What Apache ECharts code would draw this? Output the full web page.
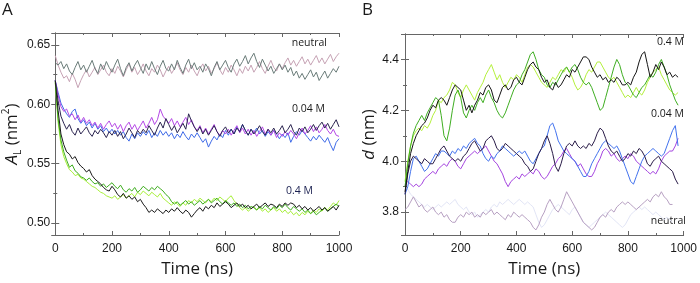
<!DOCTYPE html>
<html><head><meta charset="utf-8">
<script src="https://cdn.jsdelivr.net/npm/echarts@6.0.0/dist/echarts.min.js"></script>
<style>html,body{margin:0;padding:0;background:#fff}#c{width:700px;height:283px}</style>
</head><body><div id="c"></div>
<script>
// ---------- DATA ----------
// time samples (ns)
const timeStepNs = 10;

// Panel A: area per lipid A_L (nm^2)
const aNeutralGray = [0.635,0.633,0.636,0.630,0.634,0.628,0.625,0.631,0.636,0.629,
 0.633,0.627,0.632,0.637,0.630,0.626,0.634,0.629,0.636,0.631,
 0.627,0.633,0.638,0.630,0.624,0.631,0.635,0.628,0.633,0.637,
 0.631,0.626,0.634,0.629,0.636,0.630,0.625,0.632,0.637,0.630,
 0.628,0.634,0.629,0.637,0.631,0.626,0.633,0.638,0.630,0.635,
 0.629,0.632,0.627,0.634,0.630,0.624,0.631,0.636,0.629,0.633,
 0.637,0.631,0.627,0.634,0.638,0.632,0.636,0.641,0.634,0.639,
 0.643,0.636,0.631,0.638,0.633,0.628,0.632,0.626,0.630,0.634,
 0.629,0.633,0.627,0.631,0.624,0.628,0.622,0.626,0.621,0.625,
 0.629,0.623,0.627,0.620,0.624,0.628,0.622,0.626,0.630,0.627,0.632];
const aNeutralPink = [0.641,0.633,0.627,0.622,0.624,0.619,0.626,0.621,0.614,0.620,
 0.625,0.629,0.623,0.627,0.631,0.625,0.629,0.633,0.627,0.624,
 0.630,0.626,0.632,0.628,0.623,0.629,0.634,0.627,0.631,0.625,
 0.629,0.634,0.628,0.624,0.630,0.627,0.633,0.629,0.623,0.628,
 0.632,0.626,0.630,0.635,0.629,0.625,0.631,0.627,0.633,0.628,
 0.624,0.630,0.634,0.628,0.632,0.626,0.630,0.635,0.629,0.625,
 0.631,0.627,0.633,0.629,0.624,0.630,0.626,0.632,0.628,0.633,
 0.627,0.631,0.636,0.630,0.626,0.632,0.637,0.631,0.628,0.634,
 0.630,0.635,0.639,0.633,0.637,0.632,0.636,0.640,0.634,0.638,
 0.633,0.637,0.641,0.635,0.639,0.634,0.638,0.642,0.636,0.640,0.643];
const a004Navy = [0.620,0.603,0.590,0.584,0.579,0.583,0.577,0.574,0.580,0.575,
 0.578,0.581,0.576,0.573,0.578,0.575,0.579,0.576,0.572,0.577,
 0.574,0.578,0.573,0.577,0.571,0.575,0.580,0.576,0.572,0.578,
 0.575,0.579,0.576,0.582,0.578,0.574,0.580,0.585,0.580,0.588,
 0.583,0.578,0.582,0.576,0.580,0.584,0.579,0.592,0.586,0.581,
 0.577,0.581,0.575,0.579,0.574,0.578,0.582,0.577,0.573,0.578,
 0.581,0.576,0.579,0.575,0.580,0.577,0.583,0.578,0.574,0.579,
 0.575,0.578,0.582,0.577,0.574,0.579,0.576,0.580,0.575,0.578,
 0.582,0.576,0.579,0.583,0.577,0.574,0.580,0.577,0.581,0.576,
 0.579,0.583,0.578,0.582,0.585,0.580,0.584,0.579,0.583,0.587,0.581];
const a004Violet = [0.620,0.608,0.598,0.594,0.596,0.590,0.592,0.587,0.591,0.585,
 0.589,0.584,0.587,0.582,0.585,0.580,0.584,0.579,0.583,0.586,
 0.581,0.584,0.579,0.583,0.577,0.582,0.585,0.579,0.583,0.578,
 0.582,0.586,0.580,0.584,0.589,0.583,0.587,0.596,0.590,0.587,
 0.584,0.588,0.582,0.586,0.581,0.585,0.589,0.583,0.587,0.581,
 0.578,0.582,0.576,0.580,0.575,0.579,0.583,0.577,0.574,0.578,
 0.575,0.579,0.574,0.578,0.582,0.576,0.580,0.575,0.579,0.574,
 0.578,0.573,0.577,0.581,0.575,0.579,0.574,0.578,0.572,0.576,
 0.573,0.577,0.574,0.578,0.575,0.571,0.576,0.580,0.575,0.578,
 0.582,0.577,0.581,0.576,0.579,0.583,0.578,0.575,0.579,0.574,0.573];
const a004Blue = [0.620,0.610,0.601,0.596,0.592,0.589,0.594,0.596,0.588,0.584,
 0.587,0.582,0.585,0.580,0.584,0.579,0.582,0.577,0.580,0.576,
 0.579,0.575,0.578,0.574,0.577,0.572,0.569,0.575,0.571,0.576,
 0.573,0.577,0.574,0.578,0.572,0.576,0.573,0.578,0.574,0.577,
 0.573,0.576,0.571,0.575,0.572,0.577,0.573,0.570,0.575,0.572,
 0.576,0.572,0.568,0.571,0.564,0.569,0.573,0.570,0.575,0.572,
 0.578,0.574,0.579,0.575,0.581,0.577,0.583,0.578,0.574,0.579,
 0.576,0.580,0.575,0.578,0.573,0.577,0.574,0.578,0.575,0.571,
 0.575,0.572,0.576,0.568,0.573,0.577,0.574,0.578,0.575,0.572,
 0.569,0.573,0.570,0.574,0.571,0.568,0.572,0.566,0.561,0.568,0.571];
const a04Black = [0.620,0.595,0.575,0.566,0.560,0.558,0.554,0.556,0.551,0.548,
 0.546,0.543,0.545,0.540,0.537,0.535,0.533,0.530,0.528,0.527,
 0.531,0.528,0.524,0.522,0.525,0.521,0.523,0.520,0.522,0.518,
 0.520,0.516,0.513,0.509,0.511,0.509,0.512,0.510,0.508,0.511,
 0.509,0.512,0.510,0.513,0.510,0.508,0.511,0.509,0.505,0.508,
 0.511,0.513,0.510,0.514,0.512,0.515,0.513,0.517,0.514,0.516,
 0.518,0.516,0.513,0.515,0.517,0.514,0.516,0.513,0.515,0.512,
 0.514,0.516,0.513,0.515,0.517,0.514,0.516,0.515,0.513,0.516,
 0.514,0.517,0.515,0.517,0.516,0.513,0.515,0.512,0.514,0.511,
 0.513,0.510,0.512,0.514,0.511,0.513,0.510,0.512,0.514,0.511,0.515];
const a04Light = [0.618,0.585,0.566,0.556,0.550,0.545,0.543,0.540,0.541,0.538,
 0.537,0.535,0.533,0.531,0.530,0.528,0.526,0.525,0.523,0.522,
 0.521,0.523,0.520,0.522,0.524,0.521,0.523,0.525,0.522,0.526,
 0.524,0.527,0.525,0.523,0.526,0.524,0.522,0.525,0.521,0.519,
 0.517,0.515,0.518,0.516,0.514,0.517,0.515,0.519,0.517,0.520,
 0.518,0.521,0.519,0.517,0.520,0.518,0.521,0.519,0.522,0.520,
 0.518,0.521,0.523,0.519,0.516,0.513,0.511,0.513,0.510,0.512,
 0.514,0.511,0.513,0.510,0.512,0.509,0.511,0.513,0.510,0.512,
 0.509,0.511,0.508,0.510,0.507,0.509,0.506,0.509,0.507,0.510,
 0.508,0.511,0.509,0.512,0.510,0.513,0.511,0.514,0.517,0.515,0.519];
const a04Green = [0.619,0.588,0.570,0.560,0.553,0.547,0.549,0.544,0.542,0.539,
 0.538,0.536,0.538,0.535,0.533,0.534,0.531,0.533,0.530,0.532,
 0.534,0.531,0.529,0.532,0.528,0.526,0.529,0.527,0.530,0.526,
 0.528,0.531,0.529,0.527,0.530,0.528,0.531,0.529,0.527,0.524,
 0.522,0.518,0.516,0.518,0.515,0.517,0.519,0.516,0.518,0.515,
 0.517,0.519,0.516,0.518,0.520,0.517,0.519,0.521,0.518,0.516,
 0.519,0.517,0.515,0.517,0.514,0.516,0.513,0.515,0.512,0.514,
 0.513,0.511,0.514,0.512,0.515,0.513,0.511,0.514,0.512,0.515,
 0.513,0.516,0.513,0.511,0.514,0.512,0.510,0.512,0.509,0.511,
 0.508,0.510,0.507,0.509,0.511,0.513,0.510,0.512,0.514,0.516,0.514];

// Panel B: thickness d (nm)
const d04Black = [3.88,3.96,4.03,4.07,4.10,4.12,4.14,4.15,4.17,4.20,
 4.22,4.21,4.24,4.25,4.24,4.22,4.25,4.28,4.30,4.29,
 4.28,4.24,4.20,4.22,4.19,4.22,4.24,4.27,4.26,4.29,
 4.30,4.28,4.24,4.23,4.26,4.29,4.30,4.28,4.29,4.32,
 4.33,4.31,4.30,4.33,4.36,4.38,4.39,4.37,4.36,4.33,
 4.31,4.32,4.29,4.28,4.31,4.29,4.30,4.32,4.34,4.33,
 4.36,4.35,4.37,4.39,4.41,4.41,4.40,4.37,4.35,4.33,
 4.34,4.32,4.33,4.31,4.32,4.31,4.33,4.32,4.30,4.30,
 4.31,4.30,4.33,4.35,4.39,4.42,4.43,4.38,4.33,4.35,
 4.38,4.36,4.39,4.37,4.34,4.35,4.33,4.34,4.33];
const d04Light = [3.92,4.00,4.06,4.10,4.12,4.13,4.12,4.14,4.13,4.15,
 4.18,4.20,4.24,4.23,4.25,4.26,4.28,4.31,4.30,4.27,
 4.25,4.28,4.30,4.28,4.26,4.24,4.27,4.29,4.31,4.34,
 4.36,4.38,4.35,4.32,4.34,4.31,4.29,4.31,4.33,4.32,
 4.34,4.33,4.31,4.34,4.37,4.38,4.37,4.35,4.33,4.31,
 4.30,4.29,4.31,4.33,4.32,4.34,4.36,4.35,4.37,4.35,
 4.33,4.30,4.28,4.29,4.31,4.34,4.36,4.35,4.37,4.39,
 4.39,4.37,4.35,4.33,4.32,4.33,4.31,4.29,4.27,4.25,
 4.26,4.25,4.27,4.29,4.27,4.26,4.28,4.31,4.33,4.35,
 4.36,4.37,4.34,4.32,4.30,4.28,4.27,4.26,4.27];
const d04Green = [3.90,3.99,4.06,4.11,4.14,4.16,4.18,4.16,4.19,4.21,
 4.23,4.25,4.24,4.18,4.10,4.08,4.13,4.20,4.26,4.28,
 4.25,4.19,4.17,4.20,4.22,4.20,4.23,4.25,4.23,4.26,
 4.28,4.25,4.23,4.20,4.18,4.17,4.19,4.22,4.25,4.28,
 4.30,4.31,4.34,4.36,4.39,4.42,4.43,4.40,4.36,4.34,
 4.33,4.30,4.29,4.31,4.30,4.32,4.34,4.36,4.37,4.35,
 4.37,4.38,4.36,4.33,4.31,4.30,4.31,4.29,4.26,4.23,
 4.20,4.21,4.25,4.29,4.33,4.37,4.40,4.38,4.34,4.31,
 4.30,4.28,4.26,4.25,4.27,4.29,4.30,4.32,4.34,4.33,
 4.35,4.38,4.40,4.37,4.34,4.30,4.27,4.24,4.22];
const d004Navy = [3.87,3.95,4.00,4.02,4.01,4.00,3.99,4.01,4.00,3.99,
 3.99,4.01,4.03,4.05,4.06,4.04,4.02,4.01,4.00,4.01,
 4.00,4.02,4.03,4.05,4.07,4.08,4.06,4.04,4.05,4.08,
 4.09,4.10,4.08,4.05,4.04,4.05,4.07,4.06,4.05,4.04,
 4.03,4.02,4.01,3.99,3.98,3.96,3.97,4.00,4.03,4.05,
 4.08,4.10,4.07,4.03,3.98,3.96,3.99,4.03,4.06,4.07,
 4.06,4.08,4.06,4.05,4.06,4.05,4.07,4.06,4.08,4.11,
 4.13,4.12,4.09,4.06,4.04,4.03,4.04,4.02,4.00,4.01,
 4.03,4.02,4.04,4.03,4.05,4.04,4.02,3.99,3.98,4.00,
 4.01,4.02,4.00,3.99,3.98,3.97,3.96,3.93,3.91];
const d004Violet = [3.91,3.92,3.91,3.90,3.91,3.90,3.91,3.93,3.94,3.95,
 3.96,3.95,3.97,3.98,3.99,3.98,4.00,4.01,4.00,3.98,
 3.97,3.99,4.01,4.02,4.03,4.04,4.03,4.04,4.05,4.06,
 4.04,4.02,4.00,3.99,3.97,3.95,3.92,3.90,3.92,3.93,
 3.94,3.93,3.95,3.94,3.95,3.96,3.95,3.97,3.96,3.94,
 3.93,3.94,3.96,3.98,3.99,4.01,4.02,4.04,4.05,4.03,
 4.01,4.00,3.98,3.99,3.97,3.95,3.94,3.94,3.96,3.99,
 4.01,4.04,4.05,4.04,4.02,4.03,4.01,4.00,4.01,4.02,
 4.01,4.03,4.02,4.00,3.99,3.98,3.97,3.96,3.95,3.96,
 3.95,3.97,4.00,4.02,4.03,4.04,4.04,4.06,4.09];
const d004Blue = [3.87,3.90,3.96,4.01,4.02,4.00,3.98,3.96,3.97,3.99,
 4.01,4.03,4.02,4.04,4.04,4.03,4.02,4.04,4.03,4.05,
 4.04,4.06,4.05,4.07,4.08,4.09,4.07,4.06,4.03,4.01,
 4.00,4.02,4.01,4.03,4.04,4.06,4.05,4.04,4.03,4.02,
 4.03,4.04,4.03,4.04,4.02,4.00,3.99,4.01,4.03,4.05,
 4.06,4.10,4.14,4.15,4.12,4.08,4.06,4.04,4.03,4.02,
 4.01,4.00,3.98,3.96,3.94,3.94,3.96,3.99,4.01,4.03,
 4.05,4.07,4.08,4.07,4.06,4.05,4.06,4.04,4.01,3.98,
 3.95,3.92,3.91,3.94,3.97,4.00,4.02,4.03,4.04,4.05,
 4.04,4.03,4.02,4.03,4.06,4.09,4.12,4.14,4.06];
const dNeutralMauve = [3.81,3.82,3.84,3.86,3.84,3.82,3.83,3.81,3.80,3.81,
 3.82,3.80,3.79,3.80,3.78,3.79,3.77,3.76,3.76,3.78,
 3.79,3.78,3.80,3.79,3.80,3.78,3.79,3.78,3.80,3.79,
 3.80,3.81,3.79,3.80,3.79,3.78,3.77,3.79,3.78,3.80,
 3.79,3.78,3.79,3.78,3.77,3.76,3.74,3.73,3.75,3.78,
 3.80,3.83,3.85,3.83,3.81,3.80,3.82,3.85,3.88,3.86,
 3.84,3.82,3.80,3.78,3.76,3.75,3.74,3.73,3.74,3.76,
 3.78,3.79,3.78,3.80,3.81,3.80,3.82,3.83,3.84,3.83,
 3.84,3.83,3.82,3.81,3.82,3.83,3.84,3.85,3.84,3.86,
 3.87,3.86,3.88,3.86,3.85,3.83,3.83];
const dNeutralLavender = [3.88,3.89,3.87,3.86,3.85,3.84,3.83,3.82,3.83,3.82,
 3.81,3.82,3.83,3.82,3.83,3.84,3.83,3.84,3.85,3.83,
 3.82,3.81,3.82,3.80,3.79,3.80,3.78,3.79,3.80,3.81,
 3.80,3.82,3.83,3.82,3.84,3.83,3.84,3.85,3.84,3.83,
 3.84,3.85,3.84,3.83,3.84,3.83,3.82,3.79,3.76,3.74,
 3.75,3.77,3.79,3.81,3.82,3.83,3.82,3.81,3.80,3.79,
 3.81,3.82,3.80,3.78,3.76,3.75,3.74,3.75,3.76,3.77,
 3.78,3.79,3.80,3.79,3.78,3.77,3.76,3.75,3.74,3.75,
 3.77,3.79,3.80,3.81,3.82,3.81,3.82,3.81,3.80,3.79,
 3.80,3.79,3.78,3.77,3.78,3.77,3.76];

// ticks / labels
const xTickLabels = [0, 200, 400, 600, 800, 1000];
const aTickLabels = ['0.50', '0.55', '0.60', '0.65'];
const dTickLabels = ['3.8', '4.0', '4.2', '4.4'];

// ---------- CHART ----------
const LABEL_FONT = 'Liberation Sans';
const TEXT_FONT = 'Open Sans';
const FRAME = '#666666';
const pairs = (vals) => vals.map((v, i) => [i * timeStepNs, v]);

const chart = echarts.init(document.getElementById('c'), null, {renderer: 'canvas'});

function xAxes(gridIndex) {
  const base = {
    type: 'value', gridIndex, min: 0, max: 1000, interval: 200,
    splitLine: {show: false},
    axisLine: {show: true, lineStyle: {color: FRAME, width: 1}},
    axisTick: {show: true, inside: true, length: 4, lineStyle: {color: FRAME}},
    minorTick: {show: true, splitNumber: 2, length: 2, lineStyle: {color: FRAME}},
  };
  return [
    Object.assign({}, base, {
      position: 'bottom',
      axisLabel: {show: true, margin: 8, fontSize: 12, fontFamily: LABEL_FONT, color: '#1a1a1a',
        formatter: v => xTickLabels.includes(v) ? String(v) : ''},
      name: 'Time (ns)', nameLocation: 'middle', nameGap: 26,
      nameTextStyle: {fontSize: 17, fontFamily: TEXT_FONT, color: '#1a1a1a'}
    }),
    Object.assign({}, base, {position: 'top', axisLabel: {show: false}})
  ];
}

function yAxes(gridIndex, min, max, step, labels, digits, name, nameGap, rich, margin) {
  const base = {
    type: 'value', gridIndex, min, max, minInterval: step, maxInterval: step, splitNumber: 4,
    splitLine: {show: false},
    axisLine: {show: true, lineStyle: {color: FRAME, width: 1}},
    axisTick: {show: true, inside: true, length: 4, lineStyle: {color: FRAME}},
    minorTick: {show: true, splitNumber: 2, length: 2, lineStyle: {color: FRAME}},
  };
  return [
    Object.assign({}, base, {
      position: 'left',
      axisLabel: {show: true, margin, fontSize: 12, fontFamily: LABEL_FONT, color: '#1a1a1a',
        showMinLabel: false, showMaxLabel: false,
        formatter: v => { const s = v.toFixed(digits); return labels.includes(s) ? s : ''; }},
      name, nameLocation: 'middle', nameGap, nameRotate: 90,
      nameTextStyle: {fontSize: 17, fontFamily: TEXT_FONT, color: '#1a1a1a', rich}
    }),
    Object.assign({}, base, {position: 'right', axisLabel: {show: false}})
  ];
}

const richA = {
  i: {fontSize: 17, fontFamily: TEXT_FONT, fontStyle: 'italic', color: '#1a1a1a', lineHeight: 22},
  n: {fontSize: 17, fontFamily: TEXT_FONT, color: '#1a1a1a', lineHeight: 22},
  sub: {fontSize: 10, fontFamily: TEXT_FONT, color: '#1a1a1a', verticalAlign: 'bottom', lineHeight: 10},
  sup: {fontSize: 10, fontFamily: TEXT_FONT, color: '#1a1a1a', verticalAlign: 'top', lineHeight: 12}
};

function line(name, xi, yi, data, color, width, z) {
  return {
    name, type: 'line', xAxisIndex: xi, yAxisIndex: yi, data: pairs(data),
    showSymbol: false, symbol: 'none', smooth: false, animation: false, z: z || 2,
    lineStyle: {color, width: width || 1}, emphasis: {disabled: true}
  };
}

const option = {
  animation: false,
  backgroundColor: '#ffffff',
  grid: [
    {left: 50, top: 33, width: 289, height: 203},
    {left: 405, top: 34, width: 289, height: 202}
  ],
  xAxis: [...xAxes(0), ...xAxes(1)],
  yAxis: [
    ...yAxes(0, 0.49, 0.66, 0.05, aTickLabels, 2, '{i|A}{sub|L}{n| (nm}{sup|2}{n|)}', 30, richA, 5),
    ...yAxes(1, 3.71, 4.5, 0.2, dTickLabels, 1, '{i|d}{n| (nm)}', 25, richA, 6)
  ],
  graphic: [
    {type: 'text', left: 2, top: 2, style: {text: 'A', fontSize: 17, fontFamily: TEXT_FONT, fill: '#1a1a1a'}},
    {type: 'text', left: 362, top: 2, style: {text: 'B', fontSize: 17, fontFamily: TEXT_FONT, fill: '#1a1a1a'}},
    {type: 'text', right: 373, top: 38, style: {text: 'neutral', fontSize: 10.5, fontFamily: TEXT_FONT, fill: '#1a1a1a'}},
    {type: 'text', right: 375, top: 104, style: {text: '0.04 M', fontSize: 10.5, fontFamily: TEXT_FONT, fill: '#1a1a1a'}},
    {type: 'text', right: 387, top: 186, style: {text: '0.4 M', fontSize: 10.5, fontFamily: TEXT_FONT, fill: '#1a2050'}},
    {type: 'text', right: 16, top: 37, style: {text: '0.4 M', fontSize: 10.5, fontFamily: TEXT_FONT, fill: '#1a1a1a'}},
    {type: 'text', right: 16, top: 109, style: {text: '0.04 M', fontSize: 10.5, fontFamily: TEXT_FONT, fill: '#1a1a1a'}},
    {type: 'text', right: 14, top: 216, style: {text: 'neutral', fontSize: 10.5, fontFamily: TEXT_FONT, fill: '#1a1a1a'}}
  ],
  series: [
    line('A neutral 1', 0, 0, aNeutralPink, '#c6a2b4'),
    line('A neutral 2', 0, 0, aNeutralGray, '#6a7c79'),
    line('A 0.04 M blue', 0, 0, a004Blue, '#3f6be8'),
    line('A 0.04 M violet', 0, 0, a004Violet, '#b548e6'),
    line('A 0.04 M navy', 0, 0, a004Navy, '#2b2450'),
    line('A 0.4 M light', 0, 0, a04Light, '#a8f03a'),
    line('A 0.4 M green', 0, 0, a04Green, '#3fae1f'),
    line('A 0.4 M black', 0, 0, a04Black, '#1a1a1a'),
    line('B neutral lavender', 2, 2, dNeutralLavender, '#e2e5f6'),
    line('B neutral mauve', 2, 2, dNeutralMauve, '#b7a0c2'),
    line('B 0.04 M violet', 2, 2, d004Violet, '#a545e0'),
    line('B 0.04 M blue', 2, 2, d004Blue, '#4272ee'),
    line('B 0.04 M navy', 2, 2, d004Navy, '#2a1c48'),
    line('B 0.4 M light', 2, 2, d04Light, '#b4f03c'),
    line('B 0.4 M green', 2, 2, d04Green, '#3fae22'),
    line('B 0.4 M black', 2, 2, d04Black, '#151515')
  ]
};
chart.setOption(option);
</script>
</body></html>
